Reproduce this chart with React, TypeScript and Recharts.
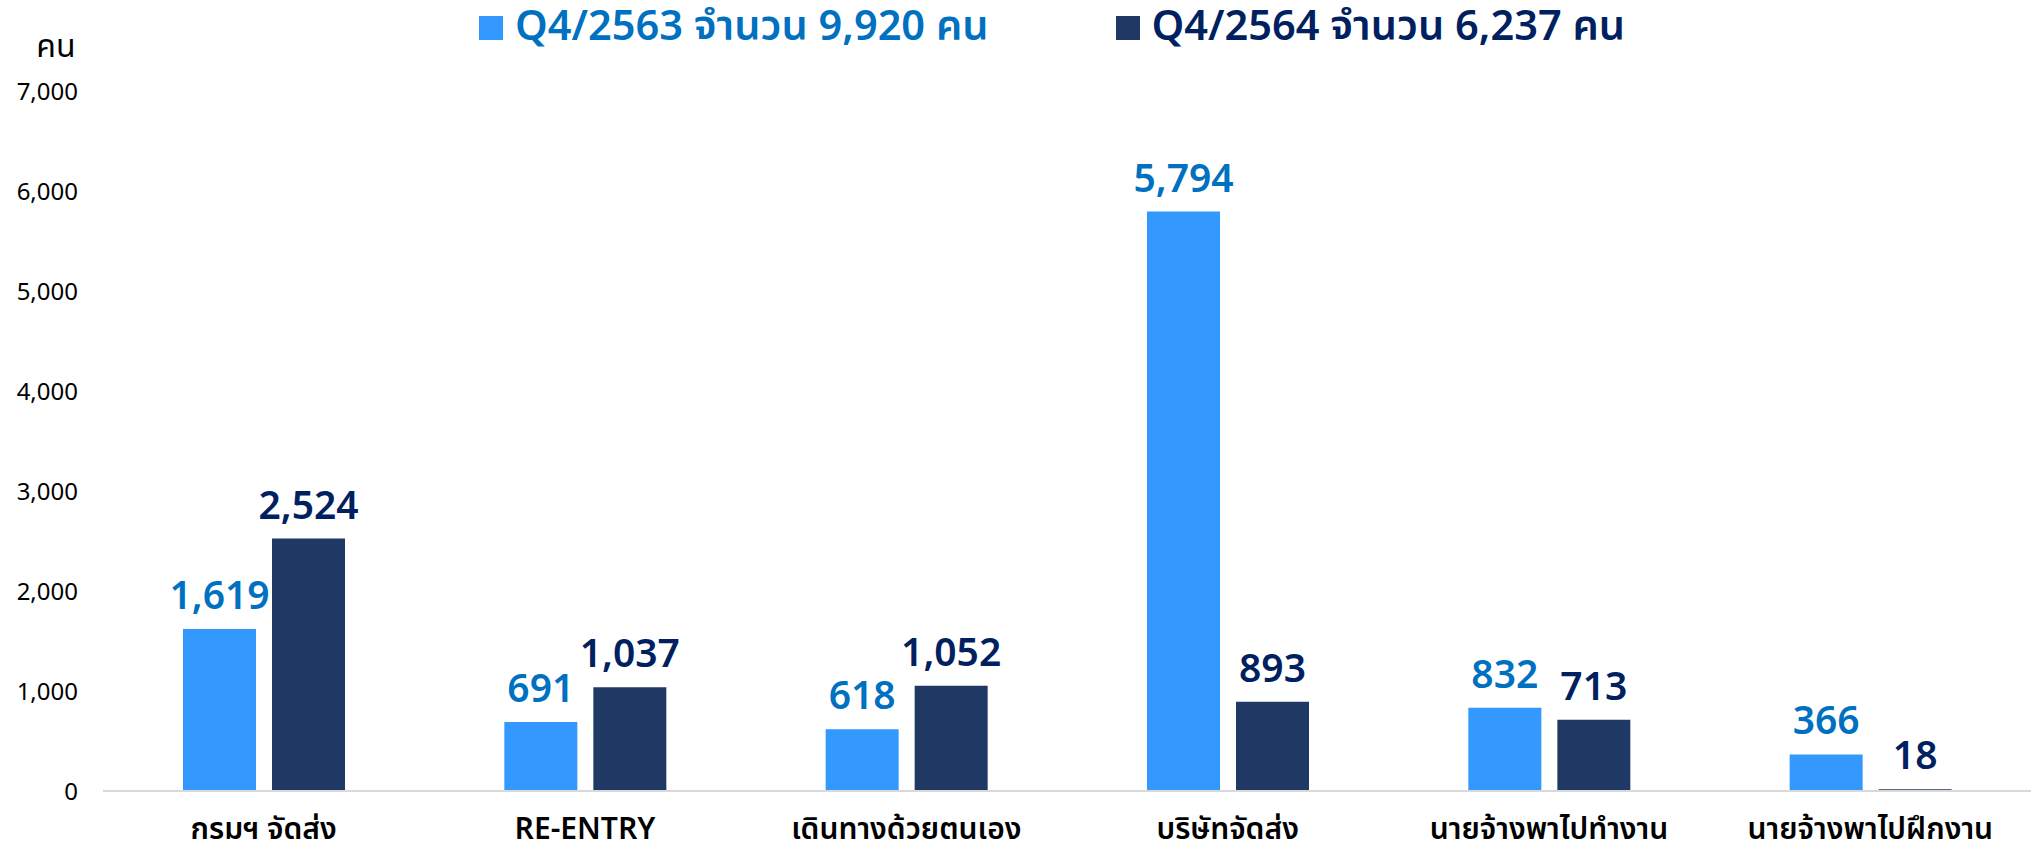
import React from 'react';
import { BarChart, Bar, XAxis, YAxis, Legend, LabelList } from 'recharts';

const categories = ['กรมฯ จัดส่ง', 'RE-ENTRY', 'เดินทางด้วยตนเอง', 'บริษัทจัดส่ง', 'นายจ้างพาไปทำงาน', 'นายจ้างพาไปฝึกงาน'];
const q2563 = [1619, 691, 618, 5794, 832, 366];
const q2564 = [2524, 1037, 1052, 893, 713, 18];
const yTicks = [0, 1000, 2000, 3000, 4000, 5000, 6000, 7000];

const FONT = '"Noto Sans Thai", "Noto Sans", Lato, sans-serif';
const LIGHT = '#3399FF';
const DARK = '#203864';
const LIGHT_TEXT = '#0070C0';
const DARK_TEXT = '#002060';

const legendItems = [
  { label: 'Q4/2563 จำนวน 9,920 คน', box: LIGHT, text: LIGHT_TEXT },
  { label: 'Q4/2564 จำนวน 6,237 คน', box: DARK, text: DARK_TEXT },
];

const data = categories.map((name, i) => ({ name, q2563: q2563[i], q2564: q2564[i] }));

const fmt = (v: any) => Number(v).toLocaleString('en-US');

// legend drawn as html, placed over the top of the plot
const renderLegend = () => (
  <div style={{ display: 'flex', fontFamily: FONT }}>
    {legendItems.map((item, i) => (
      <div key={i} style={{ display: 'flex', alignItems: 'center', marginRight: i === 0 ? 127 : 0 }}>
        <span style={{ width: 24, height: 24, background: item.box, marginRight: 12, display: 'inline-block' }} />
        <span style={{ color: item.text, fontSize: 41.5, fontWeight: 600, lineHeight: '56px' }}>{item.label}</span>
      </div>
    ))}
  </div>
);

const unitLabel = (props: any) => {
  const { viewBox } = props;
  return (
    <text x={viewBox.x + 56} y={viewBox.y - 44} textAnchor="middle" dominantBaseline="central"
      fontFamily={FONT} fontSize={32} fill="#000">
      คน
    </text>
  );
};

export default function App() {
  return (
    <div style={{ position: 'absolute', left: 0, top: 0, background: '#fff' }}>
      <BarChart width={2031} height={855} data={data}
        margin={{ top: 91, right: 0, bottom: 0, left: 0 }}
        barSize={73} barGap={16}>
        <XAxis dataKey="name" axisLine={{ stroke: '#D9D9D9', strokeWidth: 2 }} tickLine={false}
          tickSize={0} tickMargin={27} height={64} interval={0}
          tick={{ fontFamily: FONT, fontSize: 30, fontWeight: 600, fill: '#000' }} />
        <YAxis domain={[0, 7000]} ticks={yTicks} width={103} axisLine={false} tickLine={false}
          tickSize={0} tickMargin={25} tickFormatter={fmt}
          tick={{ fontFamily: FONT, fontSize: 24, fill: '#000' }}
          label={{ content: unitLabel }} />
        <Legend verticalAlign="middle" layout="horizontal" content={renderLegend}
          wrapperStyle={{ top: 0, left: 479, width: 'auto' }} />
        <Bar dataKey="q2563" fill={LIGHT} isAnimationActive={false}>
          <LabelList dataKey="q2563" position="top" offset={20} formatter={fmt}
            style={{ fontFamily: FONT, fontSize: 39, fontWeight: 600, fill: LIGHT_TEXT }} />
        </Bar>
        <Bar dataKey="q2564" fill={DARK} isAnimationActive={false}>
          <LabelList dataKey="q2564" position="top" offset={20} formatter={fmt}
            style={{ fontFamily: FONT, fontSize: 39, fontWeight: 600, fill: DARK_TEXT }} />
        </Bar>
      </BarChart>
    </div>
  );
}
